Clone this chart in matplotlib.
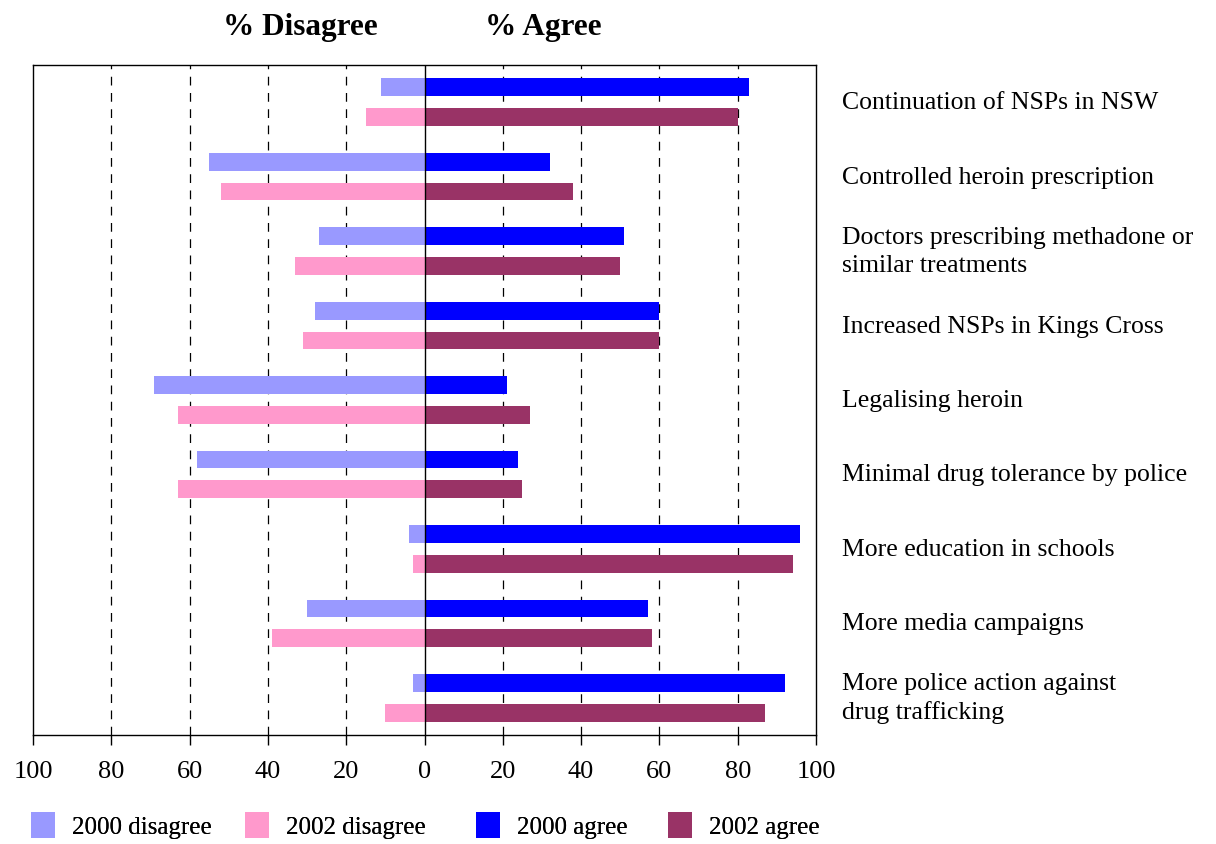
import matplotlib
matplotlib.use("Agg")
import matplotlib.pyplot as plt
import numpy as np
from matplotlib.patches import Patch

plt.rcParams['font.family'] = ['Liberation Serif', 'DejaVu Serif']

categories = [
    "Continuation of NSPs in NSW",
    "Controlled heroin prescription",
    "Doctors prescribing methadone or\nsimilar treatments",
    "Increased NSPs in Kings Cross",
    "Legalising heroin",
    "Minimal drug tolerance by police",
    "More education in schools",
    "More media campaigns",
    "More police action against\ndrug trafficking",
]
disagree_2000 = [11, 55, 27, 28, 69, 58, 4, 30, 3]
disagree_2002 = [15, 52, 33, 31, 63, 63, 3, 39, 10]
agree_2000 = [83, 32, 51, 60, 21, 24, 96, 57, 92]
agree_2002 = [80, 38, 50, 60, 27, 25, 94, 58, 87]
tick_values = [-100, -80, -60, -40, -20, 0, 20, 40, 60, 80, 100]
tick_labels = [str(abs(v)) for v in tick_values]

series_names = ["2000 disagree", "2002 disagree", "2000 agree", "2002 agree"]
series_colors = ["#9999FF", "#FF99CC", "#0000FF", "#993366"]

fig = plt.figure(figsize=(12.16, 8.45), dpi=100)
ax = fig.add_axes([33 / 1216, 1 - 736 / 845, (816 - 33) / 1216, (736 - 66) / 845])

y = np.arange(len(categories))
off = 0.2
h = 0.24
ax.barh(y - off, -np.array(disagree_2000), height=h, color=series_colors[0], zorder=3)
ax.barh(y + off, -np.array(disagree_2002), height=h, color=series_colors[1], zorder=3)
ax.barh(y - off, agree_2000, height=h, color=series_colors[2], zorder=3)
ax.barh(y + off, agree_2002, height=h, color=series_colors[3], zorder=3)

ax.set_xlim(-100, 100)
ax.set_ylim(len(categories) - 0.5, -0.5)

for v in tick_values[1:-1]:
    if v == 0:
        ax.axvline(0, color="black", lw=1.0, zorder=4)
    else:
        ax.axvline(v, color="black", lw=0.9, ls=(0, (7, 6)), zorder=1)

ax.set_xticks(tick_values)
ax.set_xticklabels(tick_labels, fontsize=19)
ax.tick_params(axis="x", direction="out", length=7, width=1, pad=11)
ax.set_yticks([])
for s in ax.spines.values():
    s.set_linewidth(1.0)
    s.set_color("black")

for i, label in enumerate(categories):
    ax.text(1.033, i, label, transform=ax.get_yaxis_transform(), ha="left",
            va="center", fontsize=18.5, linespacing=1.35)

fig.text(300 / 1216, 1 - 27 / 845, "% Disagree", ha="center", va="center",
         fontsize=22.5, fontweight="bold")
fig.text(543 / 1216, 1 - 27 / 845, "% Agree", ha="center", va="center",
         fontsize=22.5, fontweight="bold")

# one legend entry per series, spaced along the bottom edge
legend_x = [31, 245, 476, 668]
for name, color, lx in zip(series_names, series_colors, legend_x):
    leg = fig.legend(handles=[Patch(facecolor=color, label=name)], loc="center left",
                     bbox_to_anchor=(lx / 1216, 1 - 826 / 845), frameon=False,
                     fontsize=18, handlelength=0.96, handleheight=1.25,
                     handletextpad=0.68, borderpad=0, borderaxespad=0)
    fig.add_artist(leg)

fig.savefig("out.png", dpi=100)
